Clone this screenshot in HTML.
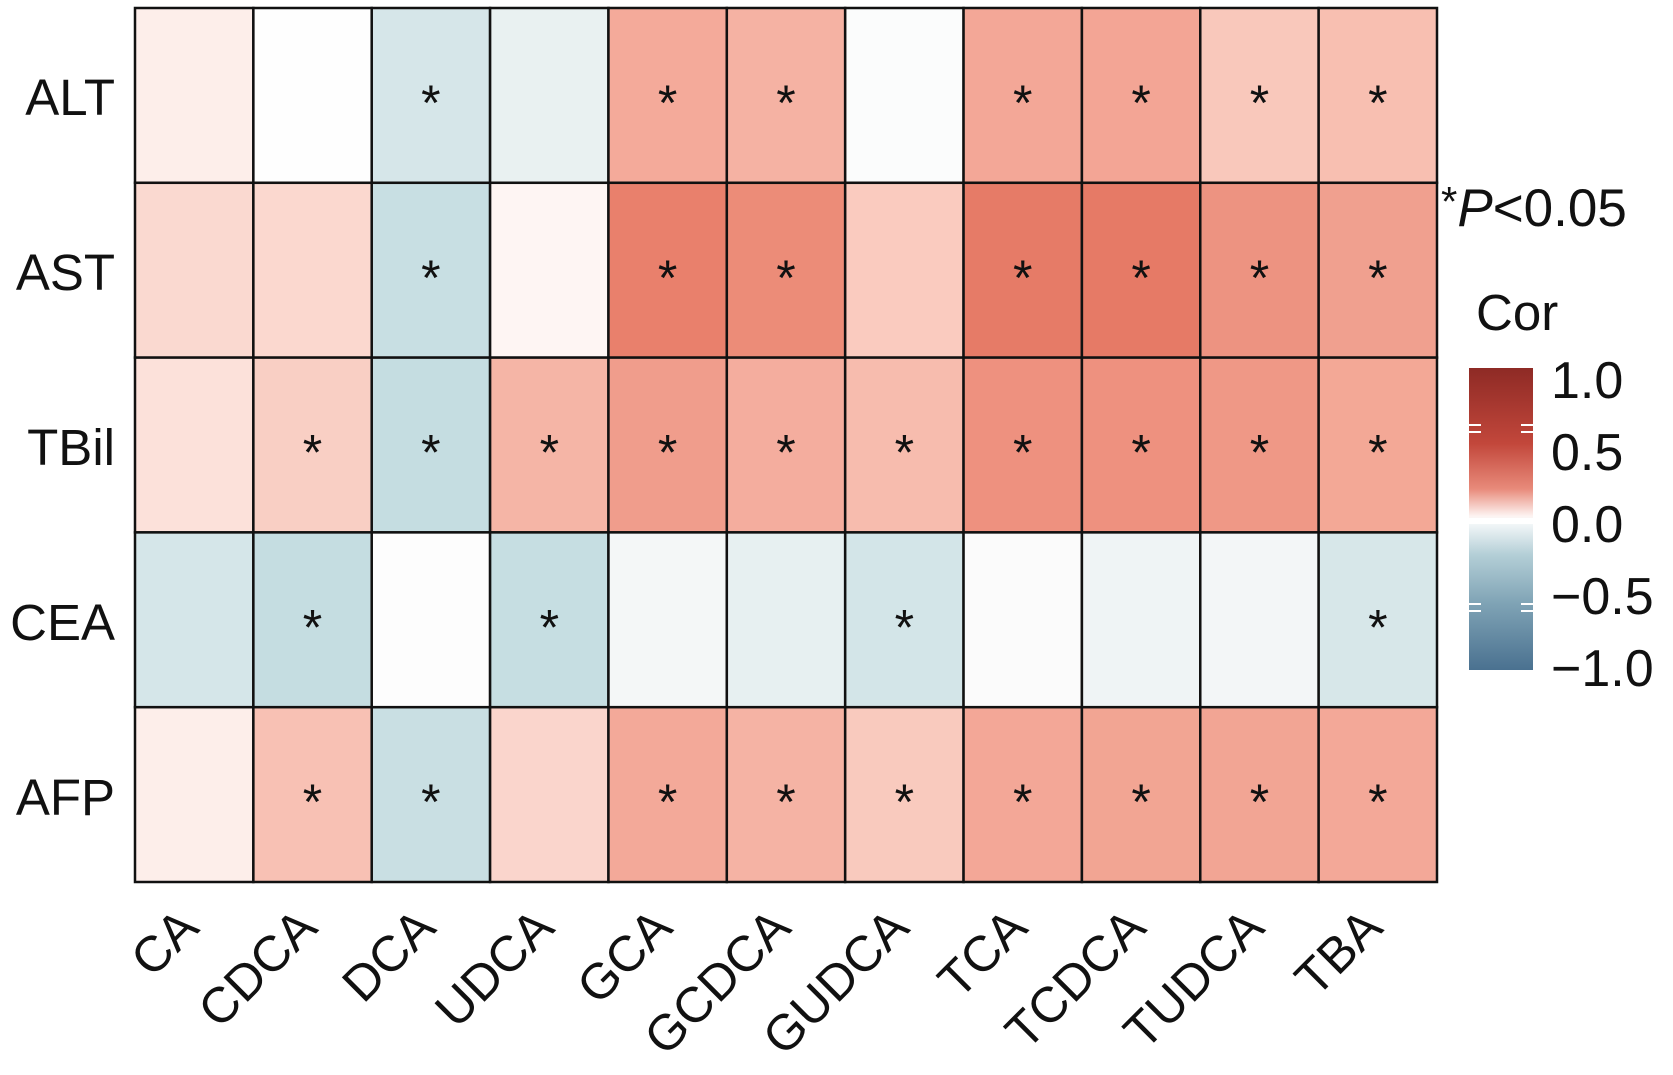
<!DOCTYPE html>
<html><head><meta charset="utf-8"><style>
html,body{margin:0;padding:0;background:#fff;}
svg{display:block;font-family:"Liberation Sans","DejaVu Sans",sans-serif;}
</style></head><body>
<svg width="1673" height="1075" viewBox="0 0 1673 1075" xmlns="http://www.w3.org/2000/svg">
<defs>
<linearGradient id="cb" x1="0" y1="0" x2="0" y2="1">
<stop offset="0" stop-color="#8e2a25"/>
<stop offset="0.25" stop-color="#c2473b"/>
<stop offset="0.4" stop-color="#e88a7a"/>
<stop offset="0.49" stop-color="#fdf3f1"/>
<stop offset="0.51" stop-color="#f6f9fa"/>
<stop offset="0.62" stop-color="#b3ced6"/>
<stop offset="0.78" stop-color="#7fa3b5"/>
<stop offset="1" stop-color="#4a7190"/>
</linearGradient>
</defs>
<g stroke="#111" stroke-width="2.5">
<g transform="translate(0,8)">
<rect x="135" y="0" width="118.36" height="174.8" fill="#fdeeea"/>
<rect x="253.36" y="0" width="118.36" height="174.8" fill="#fefefe"/>
<rect x="371.73" y="0" width="118.36" height="174.8" fill="#d6e6e9"/>
<rect x="490.09" y="0" width="118.36" height="174.8" fill="#e9f1f1"/>
<rect x="608.45" y="0" width="118.36" height="174.8" fill="#f4aa9a"/>
<rect x="726.82" y="0" width="118.36" height="174.8" fill="#f5b2a3"/>
<rect x="845.18" y="0" width="118.36" height="174.8" fill="#fbfcfc"/>
<rect x="963.55" y="0" width="118.36" height="174.8" fill="#f3a797"/>
<rect x="1081.91" y="0" width="118.36" height="174.8" fill="#f3a595"/>
<rect x="1200.27" y="0" width="118.36" height="174.8" fill="#f9c8bb"/>
<rect x="1318.64" y="0" width="118.36" height="174.8" fill="#f8bfb1"/>
</g>
<g transform="translate(0,182.8)">
<rect x="135" y="0" width="118.36" height="174.8" fill="#fad9d0"/>
<rect x="253.36" y="0" width="118.36" height="174.8" fill="#fbd8cf"/>
<rect x="371.73" y="0" width="118.36" height="174.8" fill="#c8dfe3"/>
<rect x="490.09" y="0" width="118.36" height="174.8" fill="#fef5f3"/>
<rect x="608.45" y="0" width="118.36" height="174.8" fill="#e9806c"/>
<rect x="726.82" y="0" width="118.36" height="174.8" fill="#ec8c78"/>
<rect x="845.18" y="0" width="118.36" height="174.8" fill="#facbbf"/>
<rect x="963.55" y="0" width="118.36" height="174.8" fill="#e67b67"/>
<rect x="1081.91" y="0" width="118.36" height="174.8" fill="#e67a66"/>
<rect x="1200.27" y="0" width="118.36" height="174.8" fill="#ed9381"/>
<rect x="1318.64" y="0" width="118.36" height="174.8" fill="#f0a08f"/>
</g>
<g transform="translate(0,357.6)">
<rect x="135" y="0" width="118.36" height="174.8" fill="#fce1da"/>
<rect x="253.36" y="0" width="118.36" height="174.8" fill="#f9cfc4"/>
<rect x="371.73" y="0" width="118.36" height="174.8" fill="#c5dde1"/>
<rect x="490.09" y="0" width="118.36" height="174.8" fill="#f5b5a6"/>
<rect x="608.45" y="0" width="118.36" height="174.8" fill="#f09d8c"/>
<rect x="726.82" y="0" width="118.36" height="174.8" fill="#f4ad9e"/>
<rect x="845.18" y="0" width="118.36" height="174.8" fill="#f7bcae"/>
<rect x="963.55" y="0" width="118.36" height="174.8" fill="#ee917f"/>
<rect x="1081.91" y="0" width="118.36" height="174.8" fill="#ee917f"/>
<rect x="1200.27" y="0" width="118.36" height="174.8" fill="#ef9886"/>
<rect x="1318.64" y="0" width="118.36" height="174.8" fill="#f3a896"/>
</g>
<g transform="translate(0,532.4)">
<rect x="135" y="0" width="118.36" height="174.8" fill="#d5e6e9"/>
<rect x="253.36" y="0" width="118.36" height="174.8" fill="#c5dde1"/>
<rect x="371.73" y="0" width="118.36" height="174.8" fill="#fdfdfd"/>
<rect x="490.09" y="0" width="118.36" height="174.8" fill="#c6dee2"/>
<rect x="608.45" y="0" width="118.36" height="174.8" fill="#f4f7f7"/>
<rect x="726.82" y="0" width="118.36" height="174.8" fill="#e7f0f1"/>
<rect x="845.18" y="0" width="118.36" height="174.8" fill="#d3e5e8"/>
<rect x="963.55" y="0" width="118.36" height="174.8" fill="#fbfbfb"/>
<rect x="1081.91" y="0" width="118.36" height="174.8" fill="#eff4f5"/>
<rect x="1200.27" y="0" width="118.36" height="174.8" fill="#f3f6f7"/>
<rect x="1318.64" y="0" width="118.36" height="174.8" fill="#d7e7e9"/>
</g>
<g transform="translate(0,707.2)">
<rect x="135" y="0" width="118.36" height="174.8" fill="#fdeeea"/>
<rect x="253.36" y="0" width="118.36" height="174.8" fill="#f8c1b4"/>
<rect x="371.73" y="0" width="118.36" height="174.8" fill="#c9dfe3"/>
<rect x="490.09" y="0" width="118.36" height="174.8" fill="#fad5cc"/>
<rect x="608.45" y="0" width="118.36" height="174.8" fill="#f3a999"/>
<rect x="726.82" y="0" width="118.36" height="174.8" fill="#f5b3a4"/>
<rect x="845.18" y="0" width="118.36" height="174.8" fill="#f9cabe"/>
<rect x="963.55" y="0" width="118.36" height="174.8" fill="#f3a797"/>
<rect x="1081.91" y="0" width="118.36" height="174.8" fill="#f2a593"/>
<rect x="1200.27" y="0" width="118.36" height="174.8" fill="#f2a594"/>
<rect x="1318.64" y="0" width="118.36" height="174.8" fill="#f3a898"/>
</g>
</g>
<g font-size="50" text-anchor="middle" fill="#111">
<g transform="translate(0,120)">
<text x="430.9" y="0">*</text><text x="667.6" y="0">*</text><text x="786" y="0">*</text><text x="1022.7" y="0">*</text><text x="1141.1" y="0">*</text><text x="1259.5" y="0">*</text><text x="1377.8" y="0">*</text>
</g>
<g transform="translate(0,294.8)">
<text x="430.9" y="0">*</text><text x="667.6" y="0">*</text><text x="786" y="0">*</text><text x="1022.7" y="0">*</text><text x="1141.1" y="0">*</text><text x="1259.5" y="0">*</text><text x="1377.8" y="0">*</text>
</g>
<g transform="translate(0,469.6)">
<text x="312.5" y="0">*</text><text x="430.9" y="0">*</text><text x="549.3" y="0">*</text><text x="667.6" y="0">*</text><text x="786" y="0">*</text><text x="904.4" y="0">*</text><text x="1022.7" y="0">*</text><text x="1141.1" y="0">*</text><text x="1259.5" y="0">*</text><text x="1377.8" y="0">*</text>
</g>
<g transform="translate(0,644.4)">
<text x="312.5" y="0">*</text><text x="549.3" y="0">*</text><text x="904.4" y="0">*</text><text x="1377.8" y="0">*</text>
</g>
<g transform="translate(0,819.2)">
<text x="312.5" y="0">*</text><text x="430.9" y="0">*</text><text x="667.6" y="0">*</text><text x="786" y="0">*</text><text x="904.4" y="0">*</text><text x="1022.7" y="0">*</text><text x="1141.1" y="0">*</text><text x="1259.5" y="0">*</text><text x="1377.8" y="0">*</text>
</g>
</g>
<g font-size="51" text-anchor="end" fill="#111">
<text x="115" y="115">ALT</text>
<text x="115" y="290">AST</text>
<text x="115" y="465">TBil</text>
<text x="115" y="640">CEA</text>
<text x="115" y="815">AFP</text>
</g>
<g font-size="50" text-anchor="end" fill="#111">
<text transform="translate(201,930) rotate(-45)">CA</text>
<text transform="translate(319.5,930) rotate(-45)">CDCA</text>
<text transform="translate(437.9,930) rotate(-45)">DCA</text>
<text transform="translate(556.3,930) rotate(-45)">UDCA</text>
<text transform="translate(674.6,930) rotate(-45)">GCA</text>
<text transform="translate(793,930) rotate(-45)">GCDCA</text>
<text transform="translate(911.4,930) rotate(-45)">GUDCA</text>
<text transform="translate(1029.7,930) rotate(-45)">TCA</text>
<text transform="translate(1148.1,930) rotate(-45)">TCDCA</text>
<text transform="translate(1266.5,930) rotate(-45)">TUDCA</text>
<text transform="translate(1384.8,930) rotate(-45)">TBA</text>
</g>
<text x="1441" y="226" font-size="53" fill="#111"><tspan font-size="42" dy="-10">*</tspan><tspan dy="10" font-style="italic">P</tspan>&lt;0.05</text>
<text x="1476" y="330" font-size="51" fill="#111">Cor</text>
<rect x="1469" y="368" width="64" height="302" fill="url(#cb)"/>
<rect x="1469" y="518" width="64" height="6" fill="#fff"/>
<g stroke="#fff" stroke-width="2">
<line x1="1469" y1="425" x2="1481" y2="425"/><line x1="1521" y1="425" x2="1533" y2="425"/>
<line x1="1469" y1="432" x2="1481" y2="432"/><line x1="1521" y1="432" x2="1533" y2="432"/>
<line x1="1469" y1="604" x2="1481" y2="604"/><line x1="1521" y1="604" x2="1533" y2="604"/>
<line x1="1469" y1="611" x2="1481" y2="611"/><line x1="1521" y1="611" x2="1533" y2="611"/>
</g>
<g font-size="52" fill="#111">
<text x="1551" y="398">1.0</text>
<text x="1551" y="470">0.5</text>
<text x="1551" y="542">0.0</text>
<text x="1551" y="614">−0.5</text>
<text x="1551" y="686">−1.0</text>
</g>
</svg>
</body></html>
